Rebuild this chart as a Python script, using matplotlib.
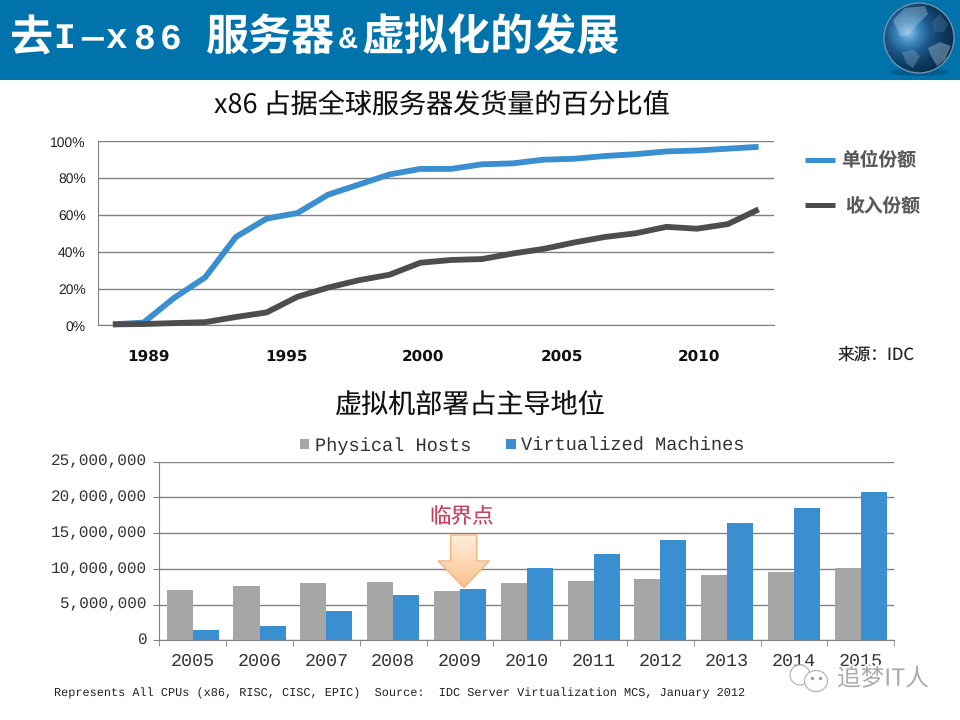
import numpy as np
import matplotlib
matplotlib.use('Agg')
import matplotlib.pyplot as plt
from matplotlib.patches import Polygon, Circle, Rectangle, Ellipse
from matplotlib.transforms import ScaledTranslation
import matplotlib.patheffects as pe
from matplotlib.colors import LinearSegmentedColormap
from matplotlib.ticker import FuncFormatter

plt.rcParams['font.family'] = ['Noto Sans CJK SC', 'DejaVu Sans']
plt.rcParams['text.hinting'] = 'no_hinting'

## data, top chart (share of shipments, 22 periods)
unit_share = [0.5, 1.5, 15, 26, 48, 58, 61, 71, 76.5, 82, 85, 85, 87.5, 88, 90, 90.5, 92, 93, 94.5, 95, 96, 97]
rev_share = [0.5, 0.7, 1.2, 1.7, 4.5, 7, 15.5, 20.5, 24.5, 27.5, 34, 35.5, 36, 39, 41.5, 45, 48, 50, 53.5, 52.5, 55, 63]
top_ticks = [1.17, 5.65, 10.1, 14.6, 19.05]
top_labels = ['1989', '1995', '2000', '2005', '2010']

## data, bottom chart (millions)
years = ['2005', '2006', '2007', '2008', '2009', '2010', '2011', '2012', '2013', '2014', '2015']
physical = [7.04, 7.6, 8.0, 8.16, 6.9, 8.0, 8.3, 8.58, 9.14, 9.56, 10.1]
virtual = [1.45, 2.0, 4.1, 6.34, 7.18, 10.1, 12.08, 14.04, 16.4, 18.5, 20.75]

BLUE = '#3a8fd0'
DARK = '#4d4d4d'
BAR_BLUE = '#3a8fd0'
BAR_GREY = '#a6a6a6'
MONO = 'Liberation Mono'

W, H = 960, 720
fig = plt.figure(figsize=(9.6, 7.2), dpi=100)


def axes_px(x0, y0, x1, y1, **kw):
    # axes from pixel box, y measured from the top
    return fig.add_axes([x0 / W, 1 - y1 / H, (x1 - x0) / W, (y1 - y0) / H], **kw)


# overlay in pixel coordinates for the slide furniture
bg = axes_px(0, 0, W, H)
bg.set_xlim(0, W)
bg.set_ylim(H, 0)
bg.axis('off')
bg.add_patch(Rectangle((0, 0), W, 80, color='#0173ac', lw=0))

# globe
bg.add_patch(Ellipse((919, 72), 58, 8, color='#00466e', alpha=0.5, lw=0, zorder=1))
yy, xx = np.mgrid[-1:1:200j, -1:1:200j]
rr = np.sqrt((xx + 0.3) ** 2 + (yy + 0.15) ** 2)
globe_cmap = LinearSegmentedColormap.from_list('globe', ['#8fc4ea', '#3d86bb', '#1a5587', '#0f3a60', '#0a2c4c'])
im = bg.imshow(rr, extent=(883, 955, 74, 2), cmap=globe_cmap, vmin=0, vmax=1.25, zorder=2)
disc = Circle((919, 38), 35, fc='none', ec='#6f93ac', lw=1, zorder=4)
bg.add_patch(disc)
im.set_clip_path(disc)
bg.set_xlim(0, W)
bg.set_ylim(H, 0)
land = [([(893, 20), (905, 8), (925, 6), (928, 14), (916, 26), (908, 36), (900, 36)], '#b9d4e8', 0.35),
        ([(902, 52), (914, 50), (920, 56), (913, 68), (907, 64)], '#8fb0c8', 0.35),
        ([(928, 48), (940, 42), (951, 46), (945, 60), (937, 66), (931, 56)], '#9dbdd1', 0.45),
        ([(932, 22), (940, 14), (948, 24), (944, 32), (934, 32)], '#4f7d9f', 0.35)]
for pts, col, alp in land:
    bg.add_patch(Polygon(pts, color=col, alpha=alp, lw=0, zorder=3))

# title; the latin letters are spaced out one by one as on the slide
tkw = dict(color='white', va='center', zorder=5)
bg.text(9, 39, '去', fontsize=31, fontweight='bold', **tkw)
for ch, cx in zip('I—x86', [64, 92, 116, 144, 171]):
    bg.text(cx, 39, ch, fontsize=26, family=MONO, fontweight='bold', color='white', ha='center', va='center', zorder=5)
bg.text(206, 38, '服务器', fontsize=31, fontweight='bold', **tkw)
bg.text(339, 40, '&', fontsize=22, family=MONO, fontweight='bold', **tkw)
bg.text(362, 38, '虚拟化的发展', fontsize=31, fontweight='bold', **tkw)

bg.text(442, 105, 'x86 占据全球服务器发货量的百分比值', fontsize=19.5, ha='center', va='center', color='#111111')
bg.text(470, 406, '虚拟机部署占主导地位', fontsize=19.5, ha='center', va='center', color='#111111')

# top chart
ax = axes_px(97.5, 141.3, 774, 325.3)
x = np.arange(len(unit_share))
ax.plot(x, unit_share, color=BLUE, lw=4.2, solid_joinstyle='round', solid_capstyle='butt', zorder=3, clip_on=False)
ax.plot(x, rev_share, color=DARK, lw=4.2, solid_joinstyle='round', solid_capstyle='butt', zorder=4, clip_on=False)
ax.set_xlim(-0.5, len(unit_share) - 0.5)
ax.set_ylim(0, 100)
ax.set_yticks(range(0, 101, 20))
ax.yaxis.set_major_formatter(FuncFormatter(lambda v, p: '%d%%' % v))
ax.grid(axis='y', color='#808080', lw=1)
ax.set_axisbelow(True)
ax.set_xticks(top_ticks, top_labels)
ax.tick_params(axis='x', length=0, pad=17, labelsize=11, labelcolor='#111111')
ax.tick_params(axis='y', length=0, pad=8.5, labelsize=10, labelcolor='#222222')
for lab in ax.get_yticklabels():
    lab.set_family('Liberation Sans')
for lab in ax.get_xticklabels():
    lab.set_family('DejaVu Sans')
    lab.set_fontweight('bold')
for s in ['top', 'right']:
    ax.spines[s].set_visible(False)
ax.spines['left'].set_color('#808080')
ax.spines['bottom'].set_color('#808080')

# top legend, drawn by hand as in the slide
bg.plot([805, 835], [160, 160], color=BLUE, lw=3.6, solid_capstyle='butt')
bg.plot([805, 835], [205, 205], color=DARK, lw=3.6, solid_capstyle='butt')
bg.text(841, 161, '单位份额', fontsize=13.5, fontweight='bold', color='#595959', va='center')
bg.text(845, 206, '收入份额', fontsize=13.5, fontweight='bold', color='#595959', va='center')
bg.text(838, 355, '来源：IDC', fontsize=12, color='#222222', va='center')

# bottom chart
ax2 = axes_px(159.3, 461.7, 894.3, 640.3)
pos = np.arange(len(years))
w = 0.39
ax2.bar(pos - w / 2, physical, w, color=BAR_GREY, label='Physical Hosts', zorder=3)
ax2.bar(pos + w / 2, virtual, w, color=BAR_BLUE, label='Virtualized Machines', zorder=3)
ax2.set_xlim(-0.5, len(years) - 0.5)
ax2.set_ylim(0, 25)
ax2.set_yticks(range(0, 26, 5))
ax2.yaxis.set_major_formatter(FuncFormatter(lambda v, p: format(int(v * 1000000), ',')))
ax2.grid(axis='y', color='#808080', lw=1)
ax2.set_axisbelow(True)
ax2.set_xticks(pos, years)
ax2.set_xticks(np.arange(-0.5, len(years)), minor=True)
ax2.tick_params(axis='x', which='major', length=0, pad=9, labelsize=13.2, labelcolor='#333333')
ax2.tick_params(axis='x', which='minor', length=4, color='#808080')
ax2.tick_params(axis='y', length=4, color='#808080', pad=5, labelsize=11.5, labelcolor='#333333')
up = ScaledTranslation(0, 2 / 100, fig.dpi_scale_trans)
for lab in ax2.get_yticklabels():
    lab.set_family(MONO)
    lab.set_transform(lab.get_transform() + up)
for lab in ax2.get_xticklabels():
    lab.set_family(MONO)
for s in ['top', 'right']:
    ax2.spines[s].set_visible(False)
ax2.spines['left'].set_color('#808080')
ax2.spines['bottom'].set_color('#808080')
ax2.legend(loc='lower left', bbox_to_anchor=(0.191, 1.04), ncol=2, frameon=False, borderaxespad=0,
           borderpad=0, handlelength=0.5, handleheight=0.5, handletextpad=0.3, columnspacing=1.9,
           prop=dict(family=MONO, size=13.4), labelcolor='#333333')

# crossing point arrow with vertical gradient
arrow = Polygon([(450.7, 535), (476.7, 535), (476.7, 561), (489.3, 561), (464, 587.5), (438.2, 561), (450.7, 561)],
                facecolor='none', edgecolor='#f5b47c', lw=1, zorder=7, transform=bg.transData)
grad = np.linspace(0, 1, 100).reshape(-1, 1)
arrow_cmap = LinearSegmentedColormap.from_list('arr', ['#fdeedd', '#fdd9b6', '#f9c08a'])
im2 = bg.imshow(grad, extent=(438, 490, 588, 534), cmap=arrow_cmap, aspect='auto', zorder=6)
bg.add_patch(arrow)
im2.set_clip_path(arrow)
bg.set_xlim(0, W)
bg.set_ylim(H, 0)
bg.set_zorder(5)
bg.patch.set_alpha(0)
bg.text(462, 517, '临界点', fontsize=15.5, color='#c8425c', ha='center', va='center')

bg.text(54, 693, 'Represents All CPUs (x86, RISC, CISC, EPIC)  Source:  IDC Server Virtualization MCS, January 2012',
        fontsize=8.6, family=MONO, color='#222222', va='center')

# watermark
bg.add_patch(Ellipse((800, 675), 20, 20, fc='white', ec='#b5b5b5', lw=0.9, zorder=8))
bg.add_patch(Ellipse((816, 681), 23, 21, fc='white', ec='#b5b5b5', lw=0.9, zorder=8))
bg.plot([812, 820], [678, 678], ls='none', marker='o', ms=1.5, color='#a0a0a0', zorder=9)
bg.text(837, 679, '追梦IT人', fontsize=17, color='#aaaaaa', va='center', zorder=9,
        path_effects=[pe.withStroke(linewidth=2.5, foreground='white')])

fig.savefig('out.png', dpi=100)
